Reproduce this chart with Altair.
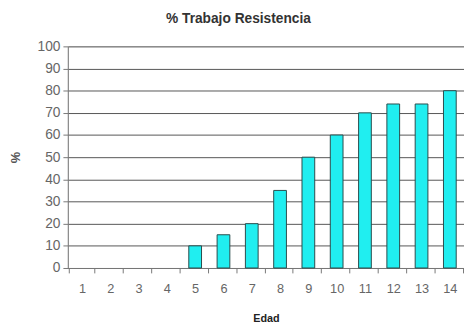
import altair as alt
import pandas as pd

edad = [str(i) for i in range(1, 15)]
porcentaje = [0, 0, 0, 0, 10, 15, 20, 35, 50, 60, 70, 74, 74, 80]

df = pd.DataFrame({"Edad": edad, "pct": porcentaje})

chart = alt.Chart(df).mark_bar(
    color="#20EEF0", strokeWidth=1, width={"band": 0.5}
).encode(
    x=alt.X("Edad:O", sort=edad, title="Edad",
            axis=alt.Axis(labelAngle=0, tickBand="extent", tickSize=5,
                          labelPadding=10, titlePadding=18, labelFontSize=13,
                          labelColor="#666", labelFont="Liberation Sans",
                          titleFont="Liberation Sans", titleFontSize=11,
                          titleFontWeight="bold", titleColor="#222",
                          domainColor="#777", tickColor="#777")),
    y=alt.Y("pct:Q", title="%", scale=alt.Scale(domain=[0, 100]),
            axis=alt.Axis(values=list(range(0, 101, 10)), tickSize=5,
                          labelPadding=3, labelFontSize=14, labelColor="#666",
                          labelFont="Liberation Sans", titleFont="Liberation Sans",
                          titleFontSize=13, titleColor="#555", titleFontWeight="bold",
                          titlePadding=15, grid=True, gridColor="#555",
                          domainColor="#777", tickColor="#777")),
    stroke=alt.condition(alt.datum.pct > 0, alt.value("#2a4a4a"), alt.value("transparent")),
).properties(
    width=404, height=226,
    title=alt.TitleParams("% Trabajo Resistencia", font="Liberation Sans",
                          fontSize=14, fontWeight="bold", color="#333",
                          dx=-28, offset=14),
    autosize=alt.AutoSizeParams(type="none"),
    padding={"left": 61, "top": 36, "right": 0, "bottom": 55},
).configure_view(stroke=None).configure(background="white")

chart.save("out.html", embed_options={"renderer": "svg", "actions": False})
